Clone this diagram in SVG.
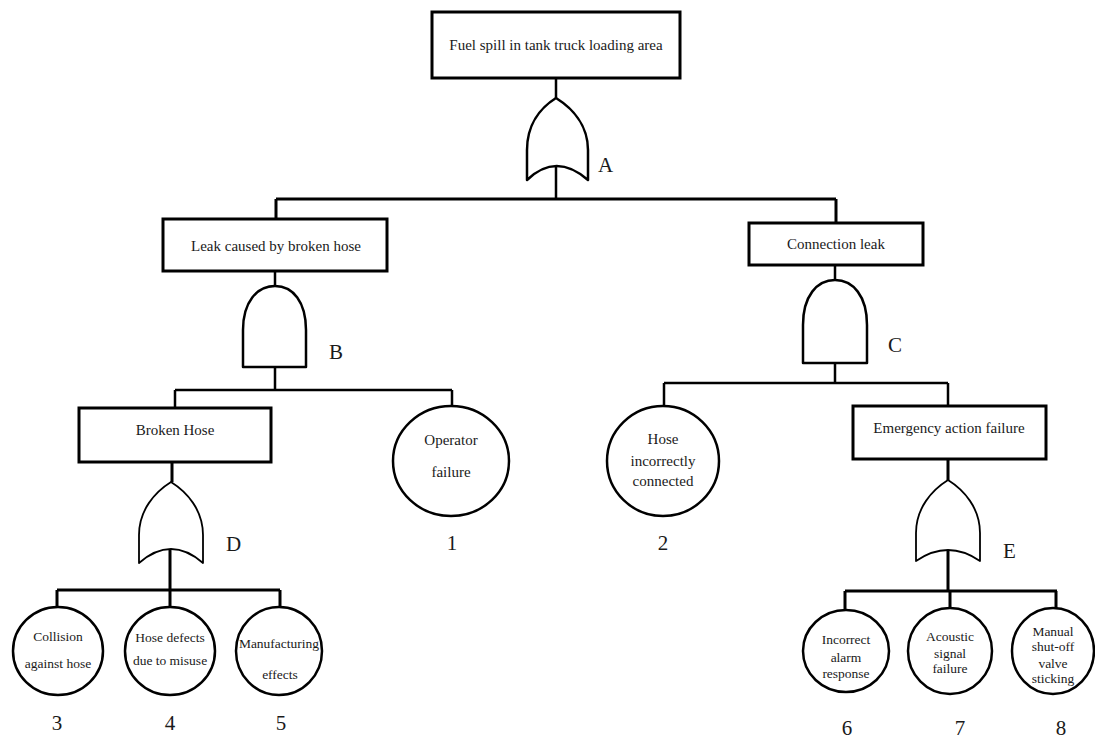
<svg xmlns="http://www.w3.org/2000/svg" width="1095" height="740" viewBox="0 0 1095 740">
  <style>
    .box { fill: #ffffff; stroke: #000000; stroke-width: 3; }
    .gate { fill: #ffffff; stroke: #000000; stroke-width: 2.5; stroke-linejoin: round; }
    .gate-thin { fill: #ffffff; stroke: #000000; stroke-width: 1.8; stroke-linejoin: round; }
    .basic { fill: #ffffff; stroke: #000000; stroke-width: 2.5; }
    .wire { fill: none; stroke: #000000; stroke-width: 2.5; }
    .wire-bold { fill: none; stroke: #000000; stroke-width: 3; }
    .lbl { font-family: "Liberation Serif", "Times New Roman", serif; font-size: 15px; fill: #1a1a1a; text-anchor: middle; }
    .lbl-s { font-family: "Liberation Serif", "Times New Roman", serif; font-size: 13.5px; fill: #1a1a1a; text-anchor: middle; }
    .tag { font-family: "Liberation Serif", "Times New Roman", serif; font-size: 21px; fill: #1a1a1a; }
    .num { font-family: "Liberation Serif", "Times New Roman", serif; font-size: 21px; fill: #1a1a1a; text-anchor: middle; }
  </style>

  <!-- connectors -->
  <g id="connectors">
    <!-- top event to gate A to level 1 -->
    <path class="wire" d="M556,78 V98 M556,166 V199"/>
    <path class="wire-bold" d="M276,199 H836 M276,199 V219 M836,199 V223"/>
    <!-- gate B branch -->
    <path class="wire" d="M275,271 V286 M275,367 V390"/>
    <path class="wire" d="M175,390 H452 M175,390 V408 M452,390 V407"/>
    <!-- gate C branch -->
    <path class="wire" d="M835,265 V280 M835,363 V383"/>
    <path class="wire" d="M664,383 H948 M664,383 V407 M948,383 V406"/>
    <!-- gate D branch -->
    <path class="wire-bold" d="M172,462 V482 M170,549 V590"/>
    <path class="wire-bold" d="M57,590 H280 M57,590 V608 M170,590 V608 M280,590 V608"/>
    <!-- gate E branch -->
    <path class="wire-bold" d="M948,459 V480 M948,550 V591"/>
    <path class="wire-bold" d="M845,591 H1057 M845,591 V610 M950,591 V608 M1056,591 V608"/>
  </g>

  <!-- top event -->
  <g id="top-event">
    <rect class="box" x="432" y="12" width="248" height="66"/>
    <text class="lbl" x="556" y="50">Fuel spill in tank truck loading area</text>
  </g>

  <!-- gate A (OR) -->
  <g id="gate-A">
    <path class="gate" d="M556,98 C540,108 527,125 527,150 L527,180 Q556,152 588,180 L588,150 C588,125 572,108 556,98 Z"/>
    <text class="tag" x="598" y="172">A</text>
  </g>

  <!-- intermediate event: leak caused by broken hose -->
  <g id="leak-broken-hose">
    <rect class="box" x="163" y="219" width="224" height="52"/>
    <text class="lbl" x="276" y="251">Leak caused by broken hose</text>
  </g>

  <!-- gate B (AND) -->
  <g id="gate-B">
    <path class="gate" d="M243,367 L243,330 C243,302 257,286 275,286 C293,286 306,302 306,330 L306,367 Z"/>
    <text class="tag" x="329" y="359">B</text>
  </g>

  <!-- intermediate event: connection leak -->
  <g id="connection-leak">
    <rect class="box" x="749" y="223" width="174" height="42"/>
    <text class="lbl" x="836" y="249">Connection leak</text>
  </g>

  <!-- gate C (AND) -->
  <g id="gate-C">
    <path class="gate" d="M803,363 L803,325 C803,296 817,280 835,280 C853,280 867,296 867,325 L867,363 Z"/>
    <text class="tag" x="888" y="352">C</text>
  </g>

  <!-- intermediate event: broken hose -->
  <g id="broken-hose">
    <rect class="box" x="79" y="408" width="192" height="54"/>
    <text class="lbl" x="175" y="435">Broken Hose</text>
  </g>

  <!-- gate D (OR) -->
  <g id="gate-D">
    <path class="gate-thin" d="M171,482 C155,492 139,510 139,535 L139,563 Q171,535 203,563 L203,535 C203,510 187,492 171,482 Z"/>
    <text class="tag" x="226" y="551">D</text>
  </g>

  <!-- basic event 1 -->
  <g id="event-1">
    <ellipse class="basic" cx="451" cy="461" rx="58" ry="55"/>
    <text class="lbl" x="451" y="445">Operator</text>
    <text class="lbl" x="451" y="477">failure</text>
    <text class="num" x="452" y="550">1</text>
  </g>

  <!-- basic event 2 -->
  <g id="event-2">
    <ellipse class="basic" cx="663" cy="461" rx="56" ry="55"/>
    <text class="lbl" x="663" y="444">Hose</text>
    <text class="lbl" x="663" y="466">incorrectly</text>
    <text class="lbl" x="663" y="486">connected</text>
    <text class="num" x="663" y="550">2</text>
  </g>

  <!-- intermediate event: emergency action failure -->
  <g id="emergency-action-failure">
    <rect class="box" x="853" y="406" width="193" height="53"/>
    <text class="lbl" x="949" y="433">Emergency action failure</text>
  </g>

  <!-- gate E (OR) -->
  <g id="gate-E">
    <path class="gate-thin" d="M948,480 C932,490 916,508 916,533 L916,561 Q948,539 980,561 L980,533 C980,508 964,490 948,480 Z"/>
    <text class="tag" x="1003" y="558">E</text>
  </g>

  <!-- basic event 3 -->
  <g id="event-3">
    <ellipse class="basic" cx="58" cy="651" rx="45" ry="44"/>
    <text class="lbl-s" x="58" y="641">Collision</text>
    <text class="lbl-s" x="58" y="668">against hose</text>
    <text class="num" x="57" y="730">3</text>
  </g>

  <!-- basic event 4 -->
  <g id="event-4">
    <ellipse class="basic" cx="170" cy="651" rx="45" ry="44"/>
    <text class="lbl-s" x="170" y="642">Hose defects</text>
    <text class="lbl-s" x="170" y="665">due to misuse</text>
    <text class="num" x="170" y="730">4</text>
  </g>

  <!-- basic event 5 -->
  <g id="event-5">
    <ellipse class="basic" cx="279" cy="651" rx="43" ry="44"/>
    <text class="lbl-s" x="279" y="648">Manufacturing</text>
    <text class="lbl-s" x="280" y="679">effects</text>
    <text class="num" x="281" y="730">5</text>
  </g>

  <!-- basic event 6 -->
  <g id="event-6">
    <ellipse class="basic" cx="846" cy="651" rx="43" ry="41"/>
    <text class="lbl-s" x="846" y="644">Incorrect</text>
    <text class="lbl-s" x="846" y="662">alarm</text>
    <text class="lbl-s" x="846" y="678">response</text>
    <text class="num" x="847" y="735">6</text>
  </g>

  <!-- basic event 7 -->
  <g id="event-7">
    <ellipse class="basic" cx="950" cy="651" rx="42" ry="43"/>
    <text class="lbl-s" x="950" y="641">Acoustic</text>
    <text class="lbl-s" x="950" y="658">signal</text>
    <text class="lbl-s" x="950" y="673">failure</text>
    <text class="num" x="960" y="735">7</text>
  </g>

  <!-- basic event 8 -->
  <g id="event-8">
    <ellipse class="basic" cx="1053" cy="651" rx="41" ry="43"/>
    <text class="lbl-s" x="1053" y="636">Manual</text>
    <text class="lbl-s" x="1053" y="651">shut-off</text>
    <text class="lbl-s" x="1053" y="668">valve</text>
    <text class="lbl-s" x="1053" y="683">sticking</text>
    <text class="num" x="1061" y="735">8</text>
  </g>
</svg>
